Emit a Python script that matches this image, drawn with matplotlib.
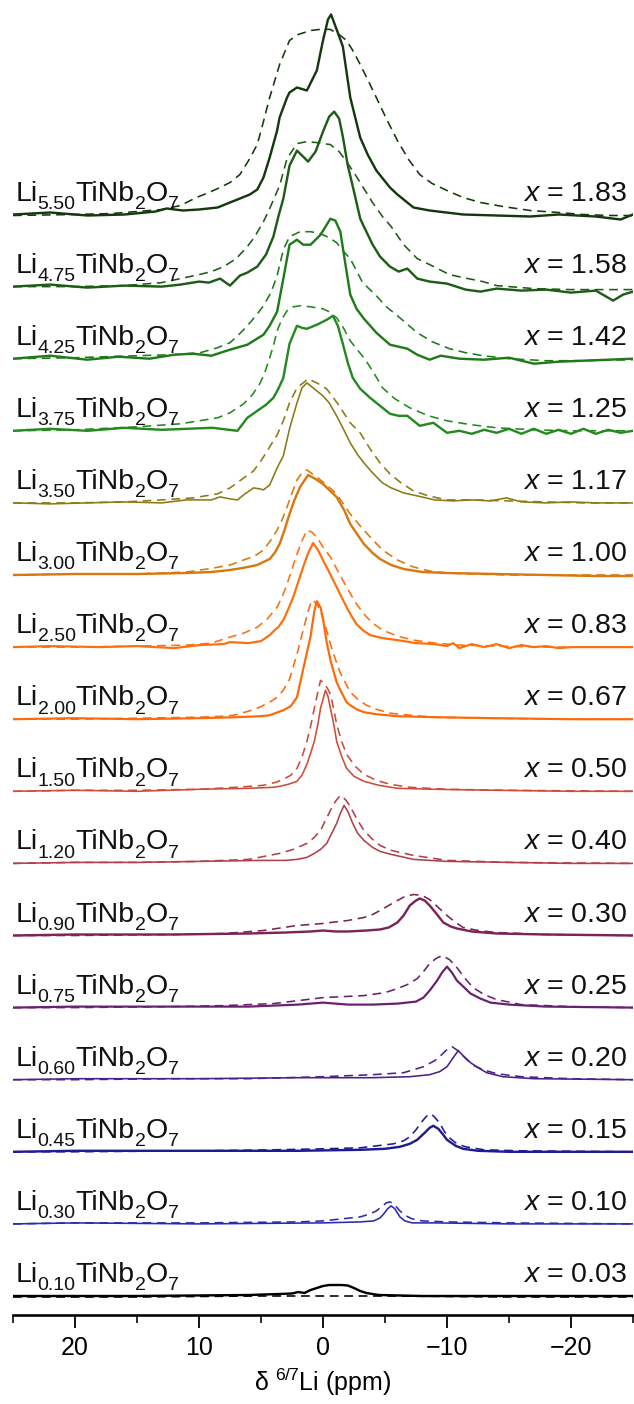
import matplotlib
matplotlib.use("Agg")
import matplotlib.pyplot as plt
import matplotlib.transforms as mtransforms
import numpy as np

plt.rcParams['font.family'] = ['Liberation Sans', 'DejaVu Sans']
plt.rcParams['mathtext.fontset'] = 'custom'
plt.rcParams['mathtext.rm'] = 'Liberation Sans'
plt.rcParams['mathtext.it'] = 'Liberation Sans:italic'
plt.rcParams['mathtext.bf'] = 'Liberation Sans:bold'

# ---------------- data (ppm, intensity in arbitrary units) ----------------
x_values = ["1.83", "1.58", "1.42", "1.25", "1.17", "1.00", "0.83", "0.67",
            "0.50", "0.40", "0.30", "0.25", "0.20", "0.15", "0.10", "0.03"]
li_values = ["5.50", "4.75", "4.25", "3.75", "3.50", "3.00", "2.50", "2.00",
             "1.50", "1.20", "0.90", "0.75", "0.60", "0.45", "0.30", "0.10"]

ppm_s_183 = [25, 22, 19, 16, 13.5, 12.6, 11.3, 10, 8.5, 7.5, 6.5, 5.9, 5.3, 4.8, 4.3, 3.7, 3.5, 2.9, 2.7, 2.1, 1.3, 0.5, 0, -0.4, -0.65, -1.1, -1.6, -2.2, -3.0, -3.6, -4.3, -5.4, -6.0, -7.3, -8.6, -11.3, -14, -16.7, -19, -22, -24, -25]
int_s_183 = [0, 2, -1, 0, 3, 6, 4, 5, 7, 12, 17, 20, 25, 37, 57, 84, 97, 117, 122, 127, 124, 144, 174, 195, 200, 185, 168, 117, 77, 60, 44, 27, 20, 7, 4, 0, -1, -2, 0, -2, -5, 0]
ppm_d_183 = [25, 20, 17, 15, 13, 11.5, 10.2, 9.2, 8.3, 7.5, 6.7, 6.0, 5.3, 4.8, 4.3, 3.5, 2.7, 2.0, 1.0, 0, -0.6, -1.3, -1.9, -2.5, -3.0, -3.6, -4.3, -5.1, -6.0, -6.9, -7.8, -8.8, -10, -11.3, -12.7, -14.5, -16.7, -19, -21, -23, -25]
int_d_183 = [-1, 0, 1, 3, 5, 9, 17, 22, 27, 32, 40, 54, 70, 93, 117, 150, 174, 180, 184, 185.5, 185, 180, 174, 162, 150, 135, 117, 96, 74, 55, 40, 31, 24, 17, 12, 8, 4, 2, 0, -1, -1]

ppm_s_158 = [25, 22, 19, 16, 13, 11.5, 10, 9.2, 8.3, 7.5, 6.7, 6.1, 5.3, 4.6, 4.0, 3.6, 3.2, 2.7, 2.1, 1.6, 1.2, 0.6, 0, -0.5, -0.9, -1.3, -1.6, -2.0, -2.5, -3.0, -3.3, -4.0, -4.6, -5.4, -6.1, -6.8, -7.6, -8.6, -10, -11.5, -12.7, -14, -16, -18, -20, -22, -23.4, -24.2, -25]
int_s_158 = [0, 2, -1, 1, 0, 2, 5, 4, 8, 1, 11, 14, 20, 32, 50, 70, 88, 121, 136, 130, 125, 135, 155, 170, 175, 168, 150, 121, 95, 68, 60, 42, 30, 20, 15, 18, 8, 5, 3, -3, -5, -2, -4, -3, -6, -4, -14, -8, -5]
ppm_d_158 = [25, 20, 16, 13, 11.5, 10, 9, 8, 7, 6.1, 5.5, 4.8, 4.3, 3.5, 2.9, 2.1, 1.3, 0.5, -0.6, -1.3, -1.9, -2.6, -3.3, -4.0, -4.8, -5.5, -6.5, -7.6, -8.6, -10.2, -11.3, -12.9, -14, -17, -20, -25]
int_d_158 = [0, 0, 1, 4, 8, 12, 15, 20, 28, 40, 50, 65, 78, 101, 128, 143, 145, 144, 142, 135, 125, 112, 98, 84, 70, 60, 42, 28, 22, 12, 9, 5, 1, -2, -3, -3]

ppm_s_142 = [25, 22, 19, 16.5, 14, 12, 10.5, 9, 7.5, 6.1, 4.8, 4.3, 3.7, 3.2, 2.7, 2.1, 1.6, 1.0, 0.2, -0.6, -1.0, -1.4, -1.8, -2.2, -2.7, -3.3, -4.3, -5.4, -6.8, -7.6, -8.6, -9.5, -11, -13, -15, -17, -19, -21, -23, -25]
int_s_142 = [0, 3, -1, 2, 0, 4, 5, 3, 9, 14, 24, 33, 47, 80, 114, 119, 114, 114, 124, 140, 138, 127, 95, 64, 50, 40, 26, 14, 10, 4, -1, 3, 0, -1, 1, -5, -3, -2, -1, 0]
ppm_d_142 = [25, 20, 15, 12, 9.9, 8.5, 7.5, 6.8, 6.1, 5.4, 4.8, 4.2, 3.7, 3.2, 2.7, 1.85, 1.0, 0.2, -0.5, -1.1, -1.6, -2.2, -2.7, -3.2, -4.3, -5.1, -6.0, -7.6, -8.8, -10.2, -11.5, -12.9, -15, -18, -21, -25]
int_d_142 = [0, 1, 3, 4, 6, 11, 16, 24, 33, 43, 53, 66, 83, 109, 122, 127, 127, 125, 121, 116, 108, 100, 88, 76, 63, 52, 43, 26, 17, 10, 6, 3, 0, -2, -2, -1]

ppm_s_125 = [25, 22, 19, 16, 13, 11, 8.9, 7.6, 6.9, 6.1, 5.3, 4.6, 4.0, 3.6, 3.2, 2.7, 2.1, 1.7, 1.3, 0.5, -0.3, -0.8, -1.2, -1.6, -2.0, -2.4, -3.0, -3.8, -4.6, -5.4, -6.1, -6.8, -7.8, -8.9, -10, -11, -12, -13, -14, -15, -16, -17, -18, -19, -20, -21, -22, -23, -24, -25]
int_s_125 = [0, 2, 0, 3, 1, 2, 3, 1, 0, 13, 20, 26, 33, 42, 53, 87, 105, 103, 102, 106, 111, 115, 105, 87, 68, 53, 42, 33, 25, 17, 15, 15, 5, 8, -2, 0, -3, 1, -2, 2, -3, 2, -3, 1, -3, 2, -3, 1, -2, 0]
ppm_d_125 = [25, 20, 15, 11.5, 8.5, 7.5, 6.4, 5.7, 5.1, 4.7, 4.3, 4.0, 3.7, 3.3, 2.9, 2.4, 1.85, 1.0, 0, -0.5, -1.1, -1.6, -2.2, -2.7, -3.3, -4.0, -4.8, -5.8, -7.0, -8.5, -10, -12, -14, -17, -20, -25]
int_d_125 = [0, 1, 4, 7, 13, 18, 27, 36, 47, 58, 73, 85, 100, 112, 120, 124, 125, 124, 122, 119, 113, 104, 90, 82, 73, 60, 43, 32, 23, 15, 10, 6, 3, 1, 0, 0]

ppm_s_117 = [25, 22, 19, 16, 13, 11, 9, 8.3, 7.5, 6.9, 6.4, 5.6, 5.1, 4.8, 4.3, 3.7, 3.2, 2.7, 2.1, 1.7, 1.3, 0.8, 0, -0.5, -1.1, -1.6, -2.2, -2.8, -3.3, -4.0, -4.8, -5.5, -6.5, -7.6, -9, -10.5, -12, -13.5, -14.8, -16, -18, -20, -22, -25]
int_s_117 = [0, -1, 0, 1, 0, 3, 3, 6, 4, 3, 8, 15, 14, 13, 18, 35, 47, 74, 100, 115, 120, 115, 107, 100, 87, 75, 60, 48, 40, 30, 20, 15, 10, 7, 3, 2, 3, 2, 5, 1, 0, 1, 0, 0]
ppm_d_117 = [25, 20, 16, 13, 10.5, 8.5, 7.5, 6.5, 5.6, 5.0, 4.5, 4.0, 3.7, 3.2, 2.7, 2.1, 1.2, 0.5, -0.3, -1.2, -2.2, -3.0, -3.8, -4.6, -5.4, -6.3, -7.3, -8.5, -10, -12, -15, -18, -21, -25]
int_d_117 = [0, 0, 1, 3, 5, 9, 15, 24, 32, 42, 52, 62, 68, 82, 100, 115, 124, 120, 114, 99, 80, 70, 54, 40, 29, 20, 12, 7, 3, 3, 2, 1, 0, 0]

ppm_s_100 = [25, 20, 15, 11, 9, 7.5, 6.5, 5.3, 4.3, 3.9, 3.5, 3.1, 2.7, 2.3, 1.85, 1.2, 0.6, 0, -0.5, -1.1, -1.7, -2.2, -2.8, -3.3, -4.0, -4.6, -5.5, -6.5, -8, -10, -14, -18, -22, -25]
int_s_100 = [0, 1, 1, 2, 3, 5, 7, 10, 16, 22, 31, 45, 61, 75, 88, 100, 96, 91, 85, 78, 65, 51, 40, 31, 22, 16, 10, 6, 3, 2, 1, 0, -1, -1]
ppm_d_100 = [25, 20, 15, 11, 8.8, 7.5, 6.4, 5.5, 4.8, 4.2, 3.7, 3.3, 2.9, 2.5, 2.1, 1.7, 1.3, 0.5, -0.3, -1.1, -1.7, -2.2, -3.0, -3.8, -4.8, -6.0, -7.3, -8.6, -10, -12, -15, -20, -25]
int_d_100 = [0, 1, 1, 3, 7, 10, 15, 19, 25, 35, 45, 55, 68, 82, 95, 102, 105, 98, 90, 81, 70, 61, 49, 38, 25, 15, 8, 4, 2, 1, 0, 0, 0]

ppm_s_083 = [25, 22, 18, 15, 12, 10, 8, 7.5, 6, 5, 4.3, 3.9, 3.6, 3.2, 2.8, 2.4, 2.0, 1.6, 1.2, 0.8, 0.4, 0, -0.5, -1.1, -1.5, -1.9, -2.3, -2.7, -3.2, -3.8, -4.8, -6, -7.5, -9, -10, -10.5, -11, -12, -13, -14, -15, -16, -17, -18, -19, -20, -22, -25]
int_s_083 = [0, 1, 0, 1, -1, 2, 3, 5, 4, 6, 12, 17, 20, 27, 38, 50, 65, 80, 94, 104, 97, 87, 75, 60, 50, 40, 31, 23, 17, 12, 9, 7, 4, 3, 1, 4, -1, 3, 0, 3, -1, 2, 0, 1, -1, 0, 0, 0]
ppm_d_083 = [25, 20, 15, 11, 9, 7.5, 6.4, 5.3, 4.5, 3.7, 3.3, 2.9, 2.5, 2.1, 1.7, 1.3, 0.9, 0.5, 0, -0.6, -1.2, -1.9, -2.6, -3.3, -4.0, -4.8, -6, -7.3, -9, -11, -14, -18, -25]
int_d_083 = [0, 0, 1, 2, 4, 10, 14, 20, 28, 40, 50, 63, 78, 93, 106, 117, 115, 110, 100, 90, 76, 60, 45, 33, 24, 17, 11, 7, 4, 2, 1, 0, 0]

ppm_s_067 = [25, 20, 15, 10, 7, 5, 4.3, 3.2, 2.6, 2.1, 1.6, 1.0, 0.7, 0.5, 0.2, 0, -0.3, -0.6, -1.1, -1.4, -1.9, -2.2, -2.7, -3.3, -4.3, -6, -9, -14, -20, -25]
int_s_067 = [0, 1, 0, 1, 2, 3, 4, 9, 13, 22, 50, 83, 108, 118, 112, 100, 77, 59, 37, 29, 17, 14, 10, 7, 5, 3, 2, 1, 0, 0]
ppm_d_067 = [25, 20, 15, 10, 8, 7.2, 6, 5.1, 4.3, 3.7, 3.2, 2.7, 2.1, 1.6, 1.2, 0.9, 0.5, 0.2, -0.2, -0.6, -1.0, -1.4, -2.2, -2.8, -3.5, -4.3, -5.4, -7, -9, -13, -20, -25]
int_d_067 = [0, 0, 1, 2, 3, 4, 8, 12, 17, 22, 29, 40, 65, 89, 108, 119, 116, 108, 93, 75, 60, 46, 27, 20, 14, 10, 6, 4, 2, 1, 0, 0]

ppm_s_050 = [25, 20, 15, 10, 6, 4, 3.5, 2.8, 2.1, 1.7, 1.3, 1.0, 0.7, 0.4, 0.2, -0.2, -0.4, -0.6, -0.9, -1.1, -1.5, -1.9, -2.5, -3.3, -4.5, -6, -9, -14, -20, -25]
int_s_050 = [0, 1, 0, 2, 3, 4, 5, 7, 10, 16, 27, 38, 50, 68, 83, 101, 95, 83, 65, 50, 35, 23, 15, 10, 6, 3, 2, 1, 0, 0]
ppm_d_050 = [25, 20, 15, 10, 7, 4.8, 3.8, 3.2, 2.6, 2.1, 1.7, 1.3, 1.0, 0.7, 0.4, 0.2, -0.1, -0.4, -0.6, -0.9, -1.1, -1.5, -1.9, -2.6, -3.3, -4.3, -5.4, -7, -10, -15, -25]
int_d_050 = [0, 1, 1, 2, 4, 6, 9, 12, 16, 23, 34, 50, 65, 83, 100, 111, 108, 102, 97, 80, 67, 50, 37, 25, 17, 11, 7, 4, 2, 1, 0]

ppm_s_040 = [25, 20, 15, 10, 5, 3, 2.1, 1.3, 0.7, 0.2, -0.3, -0.7, -1.1, -1.4, -1.7, -2.0, -2.4, -2.8, -3.3, -4.0, -4.6, -5.5, -7.3, -10, -15, -20, -25]
int_s_040 = [0, 1, 1, 2, 3, 3, 4, 6, 10, 14, 20, 30, 40, 50, 58, 52, 40, 30, 23, 16, 12, 9, 4, 2, 1, 0, 0]
ppm_d_040 = [25, 20, 15, 10, 6, 3.5, 2.4, 1.3, 0.7, 0.2, -0.2, -0.6, -1.0, -1.4, -1.8, -2.2, -2.7, -3.3, -4.0, -4.6, -5.5, -7.3, -10, -15, -25]
int_d_040 = [0, 1, 1, 2, 4, 10, 14, 20, 26, 33, 43, 53, 62, 68, 64, 57, 45, 33, 24, 18, 13, 8, 3, 1, 0]

ppm_s_030 = [25, 20, 12, 6, 3, 1, 0, -1, -2, -3.5, -4.6, -5.3, -6.0, -6.5, -7.0, -7.5, -7.8, -8.2, -8.6, -9.2, -9.7, -10.3, -10.8, -12, -14, -18, -25]
int_s_030 = [0, 1, 1, 2, 3, 4, 5, 4, 4, 5, 6, 8, 13, 20, 30, 35, 37, 35, 30, 21, 13, 9, 7, 4, 2, 1, 0]
ppm_d_030 = [25, 20, 12, 8, 4.8, 2.1, 0, -0.6, -2, -3.3, -4.0, -4.6, -5.3, -6.0, -6.6, -7.3, -8.0, -8.6, -9.3, -10, -10.7, -11.3, -12.5, -14, -18, -25]
int_d_030 = [0, 0, 1, 2, 5, 10, 12, 13, 15, 18, 21, 25, 30, 35, 39, 41, 40, 36, 28, 20, 13, 8, 5, 3, 1, 0]

ppm_s_025 = [25, 20, 12, 6, 2, 0, -2, -4, -6, -7.5, -8.1, -8.6, -9.2, -9.6, -10.0, -10.4, -10.8, -11.4, -11.9, -12.7, -13.5, -15, -18, -25]
int_s_025 = [0, 1, 1, 1, 3, 5, 3, 3, 4, 6, 10, 17, 27, 35, 41, 35, 27, 20, 14, 9, 5, 3, 1, 0]
ppm_d_025 = [25, 20, 12, 8, 4, 0, -3.3, -5, -6, -6.8, -7.6, -8.1, -8.6, -9.1, -9.6, -10.2, -10.8, -11.4, -12.1, -13, -14, -16, -20, -25]
int_d_025 = [0, 0, 1, 2, 4, 10, 12, 15, 19, 23, 29, 36, 44, 49, 52, 48, 40, 30, 20, 13, 8, 3, 1, 0]

ppm_s_020 = [25, 20, 10, 2, -4, -7, -8.6, -9.4, -10, -10.5, -10.9, -11.3, -11.9, -12.5, -13.2, -14.5, -17, -25]
int_s_020 = [0, 1, 1, 2, 2, 3, 5, 8, 13, 22, 29, 24, 17, 12, 7, 3, 1, 0]
ppm_d_020 = [25, 20, 12, 6, 0, -4, -6.5, -8.1, -9.0, -9.4, -9.9, -10.4, -10.9, -11.6, -12.2, -12.9, -14, -16, -20, -25]
int_d_020 = [0, 0, 1, 1, 3, 5, 7, 13, 19, 23, 29, 33, 29, 20, 14, 10, 6, 3, 1, 0]

ppm_s_015 = [25, 20, 10, 2, -3, -5, -6.2, -7.0, -7.6, -8.2, -8.6, -8.9, -9.3, -9.7, -10.0, -10.7, -11.3, -12.5, -15, -25]
int_s_015 = [0, 1, 1, 1, 2, 3, 5, 8, 12, 19, 24, 26, 23, 17, 12, 6, 3, 1, 0, 0]
ppm_d_015 = [25, 20, 10, 4, 0, -3, -5.7, -6.5, -7.0, -7.5, -7.9, -8.3, -8.6, -8.9, -9.4, -9.8, -10.2, -10.8, -11.5, -13, -16, -25]
int_d_015 = [0, 0, 1, 2, 3, 4, 8, 11, 15, 22, 29, 35, 38, 36, 29, 20, 14, 8, 5, 2, 1, 0]

ppm_s_010 = [25, 20, 10, 0, -3, -4.1, -4.6, -4.9, -5.2, -5.5, -5.8, -6.2, -6.6, -7.2, -9, -15, -25]
int_s_010 = [0, 1, 0, 1, 2, 3, 6, 10, 15, 18, 15, 7, 3, 1, 1, 0, 0]
ppm_d_010 = [25, 20, 10, 2, 0, -3.0, -3.8, -4.3, -4.8, -5.1, -5.4, -5.7, -6.2, -6.7, -7.2, -8, -10, -15, -25]
int_d_010 = [0, 1, 1, 2, 3, 7, 10, 13, 18, 21, 22, 20, 13, 8, 5, 3, 2, 1, 0]

ppm_s_003 = [25, 15, 6, 3.5, 2.5, 2, 1.5, 1, 0.5, 0, -0.5, -1, -1.5, -2, -2.5, -3, -3.5, -4.5, -8, -15, -25]
int_s_003 = [0, 0, 1, 2, 2.5, 4, 3, 6, 8, 10, 11, 11, 11, 10.5, 8, 5, 3, 1, 0, 0, 0]
ppm_d_003 = [25, 15, 5, 0, -5, -15, -25]
int_d_003 = [-1, -1, 0, 0, 0, -1, -1]

# top to bottom
solid_ppm = [ppm_s_183, ppm_s_158, ppm_s_142, ppm_s_125, ppm_s_117, ppm_s_100, ppm_s_083, ppm_s_067,
             ppm_s_050, ppm_s_040, ppm_s_030, ppm_s_025, ppm_s_020, ppm_s_015, ppm_s_010, ppm_s_003]
solid_int = [int_s_183, int_s_158, int_s_142, int_s_125, int_s_117, int_s_100, int_s_083, int_s_067,
             int_s_050, int_s_040, int_s_030, int_s_025, int_s_020, int_s_015, int_s_010, int_s_003]
dash_ppm = [ppm_d_183, ppm_d_158, ppm_d_142, ppm_d_125, ppm_d_117, ppm_d_100, ppm_d_083, ppm_d_067,
            ppm_d_050, ppm_d_040, ppm_d_030, ppm_d_025, ppm_d_020, ppm_d_015, ppm_d_010, ppm_d_003]
dash_int = [int_d_183, int_d_158, int_d_142, int_d_125, int_d_117, int_d_100, int_d_083, int_d_067,
            int_d_050, int_d_040, int_d_030, int_d_025, int_d_020, int_d_015, int_d_010, int_d_003]

# ---------------- style ----------------
colors = ['#15380f', '#1c5c15', '#1f7a1a', '#248a1f', '#8c7a16', '#d8780f', '#ff6f0c', '#ff6a08',
          '#cf4c38', '#b0404a', '#7b2456', '#6a2070', '#4b2288', '#1f1a92', '#2a2ab0', '#000000']
solid_lw_px = [2.4, 2.4, 2.4, 2.4, 1.6, 2.4, 2.2, 2.2, 1.6, 1.6, 2.4, 2.2, 1.6, 2.4, 1.6, 2.4]
PX = 0.72  # points per pixel at 100 dpi

W, H = 634, 1404
fig = plt.figure(figsize=(W / 100, H / 100), dpi=100)
ax_left, ax_right = 13, 633
ax_top, ax_bottom = 0, 1315
ax = fig.add_axes([ax_left / W, (H - ax_bottom) / H, (ax_right - ax_left) / W, (ax_bottom - ax_top) / H])
ax.set_xlim(25, -25)
ax.set_ylim(0, ax_bottom - ax_top)
renderer = fig.canvas.get_renderer()

FS = 20.5
SUB_FS = 14
SUB_DROP = 6.0  # points


def formula_label(x, y, li):
    parts = [("Li", False), (li, True), ("TiNb", False), ("2", True), ("O", False), ("7", True)]
    dx = 0.0
    for txt, sub in parts:
        tr = mtransforms.offset_copy(ax.transData, fig=fig, x=dx, y=-SUB_DROP if sub else 0.0,
                                     units='points')
        t = ax.text(x, y, txt, fontsize=SUB_FS if sub else FS, ha='left', va='baseline',
                    color='#111111', transform=tr)
        w = t.get_window_extent(renderer).width * 72.0 / fig.dpi
        dx += w


n = len(x_values)
step = 72.1
base0 = 19.0
for i in range(n):
    base = base0 + (n - 1 - i) * step
    c = colors[i]
    ax.plot(dash_ppm[i], np.array(dash_int[i]) + base, color=c, lw=1.6 * PX,
            linestyle=(0, (5.5, 3.5)), zorder=2, solid_joinstyle='round')
    ax.plot(solid_ppm[i], np.array(solid_int[i]) + base, color=c, lw=solid_lw_px[i] * PX,
            zorder=3, solid_joinstyle='round')
    formula_label(24.8, base + 14, li_values[i])
    ax.text(-24.5, base + 14, r"$x$ = %s" % x_values[i], fontsize=FS,
            ha='right', va='baseline', color='#111111')

for s in ['left', 'right', 'top']:
    ax.spines[s].set_visible(False)
ax.spines['bottom'].set_linewidth(2.6 * PX)
ax.set_yticks([])
ax.set_xticks([20, 10, 0, -10, -20])
ax.set_xticklabels(['20', '10', '0', '\u221210', '\u221220'])
ax.set_xticks([25, 15, 5, -5, -15, -25], minor=True)
ax.tick_params(axis='x', which='major', direction='out', length=13 * PX, width=1.8 * PX,
               labelsize=18, pad=6)
ax.tick_params(axis='x', which='minor', direction='out', length=8 * PX, width=1.6 * PX)
ax.set_xlabel(r"δ $^{6/7}$Li (ppm)", fontsize=18)
ax.xaxis.set_label_coords(0.5, -(1382 - ax_bottom) / (ax_bottom - ax_top))
ax.xaxis.label.set_va('center')
ax.patch.set_visible(False)

fig.savefig("out.png", dpi=100)
